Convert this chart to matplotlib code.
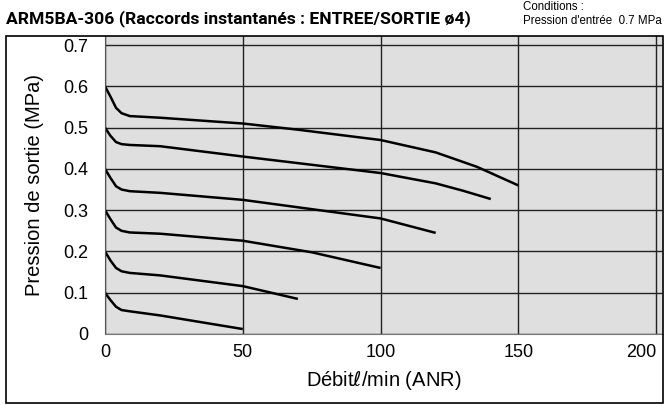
import matplotlib.pyplot as plt
from matplotlib.patches import Rectangle

plt.rcParams['font.family'] = ['Liberation Sans', 'DejaVu Sans']

# outlet pressure curves, one per set pressure (MPa)
flow_06 = [0, 2, 4, 6, 9, 20, 50, 70, 100, 120, 135, 150]
pres_06 = [0.60, 0.575, 0.548, 0.535, 0.528, 0.524, 0.510, 0.495, 0.470, 0.440, 0.405, 0.360]

flow_05 = [0, 2, 4, 6, 9, 20, 50, 100, 120, 130, 140]
pres_05 = [0.50, 0.480, 0.465, 0.460, 0.458, 0.455, 0.430, 0.390, 0.365, 0.347, 0.327]

flow_04 = [0, 2, 4, 6, 9, 20, 50, 100, 120]
pres_04 = [0.40, 0.378, 0.358, 0.350, 0.346, 0.342, 0.325, 0.280, 0.245]

flow_03 = [0, 2, 4, 6, 9, 20, 50, 75, 100]
pres_03 = [0.30, 0.278, 0.258, 0.250, 0.246, 0.243, 0.226, 0.198, 0.160]

flow_02 = [0, 2, 4, 6, 9, 20, 50, 70]
pres_02 = [0.20, 0.178, 0.160, 0.152, 0.148, 0.142, 0.116, 0.085]

flow_01 = [0, 2, 4, 6, 9, 20, 50]
pres_01 = [0.10, 0.082, 0.066, 0.058, 0.055, 0.045, 0.012]

curves = [(flow_06, pres_06), (flow_05, pres_05), (flow_04, pres_04),
          (flow_03, pres_03), (flow_02, pres_02), (flow_01, pres_01)]

x_ticks = [0, 50, 100, 150, 200]
y_ticks = [0, 0.1, 0.2, 0.3, 0.4, 0.5, 0.6, 0.7]
y_labels = ["0", "0.1", "0.2", "0.3", "0.4", "0.5", "0.6", "0.7"]

fig = plt.figure(figsize=(6.64, 4.05), dpi=100)
ax = fig.add_axes([105 / 664, 71 / 405, 558 / 664, 298 / 405])
ax.set_facecolor("#dfdfdf")

for fx, py in curves:
    ax.plot(fx, py, color="black", lw=1.8, solid_capstyle="butt")

ax.set_xlim(0, 202.5)
ax.set_ylim(0, 0.722)
ax.set_xticks(x_ticks)
ax.set_yticks(y_ticks)
ax.set_yticklabels(y_labels)
ax.tick_params(length=0, labelsize=13)
ax.tick_params(axis="y", pad=12)
ax.tick_params(axis="x", pad=7)
ax.get_xticklabels()[-1].set_ha("right")
ax.grid(True, color="#222222", lw=1)
for s in ["top", "right"]:
    ax.spines[s].set_visible(False)
ax.spines["left"].set_color("#555555")
ax.spines["bottom"].set_color("#777777")

ax.set_xlabel("Débit$\\ell$/min (ANR)", fontsize=14.5, labelpad=6)
ax.set_ylabel("Pression de sortie (MPa)", fontsize=14.5)
ax.yaxis.set_label_coords(-(105 - 44) / 558, 0.5)

# outer frame
fig.patches.append(Rectangle((6 / 664, 2 / 405), 657 / 664, 367 / 405,
                             transform=fig.transFigure, fill=False,
                             edgecolor="black", lw=1.2))

fig.text(6 / 664, 1 - 19 / 405, "ARM5BA-306 (Raccords instantanés : ENTREE/SORTIE ø4)",
         fontsize=12.6, fontweight="bold", va="center", ha="left",
         family=["Roboto", "DejaVu Sans"])
fig.text(523 / 664, 1 - 7 / 405, "Conditions :", fontsize=8.3, va="center")
fig.text(523 / 664, 1 - 21 / 405, "Pression d'entrée  0.7 MPa", fontsize=8.3, va="center")

fig.savefig("out.png", dpi=100)
